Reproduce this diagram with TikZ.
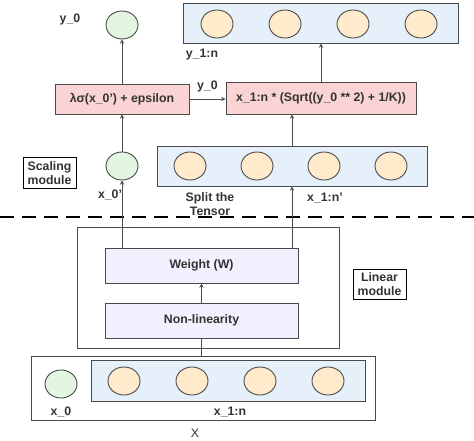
\documentclass[tikz,border=0pt]{standalone}
\usepackage{fontspec}
\setmainfont{Liberation Sans}
\usetikzlibrary{positioning,shapes.geometric}
\definecolor{edge}{HTML}{4A4A4A}
\definecolor{txt}{HTML}{333333}
\definecolor{greenfill}{HTML}{E2F6E2}
\definecolor{orangefill}{HTML}{FFEBCC}
\definecolor{bluefill}{HTML}{E6F0FA}
\definecolor{redfill}{HTML}{FAD4D4}
\definecolor{lavfill}{HTML}{F0F0FF}
\begin{document}
\begin{tikzpicture}
        [x=1pt,y=-1pt,
         every node/.style={text=txt,font=\fontsize{12.3}{14}\selectfont\bfseries},
         gcirc/.style={draw=edge,line width=0.9pt,fill=greenfill,ellipse,minimum width=32pt,minimum height=28pt,inner sep=0pt},
         ocirc/.style={gcirc,fill=orangefill},
         vecbox/.style={draw=edge,line width=0.9pt,fill=bluefill,inner sep=0pt},
         opbox/.style={draw=edge,line width=0.9pt,fill=redfill,inner sep=0pt},
         layerbox/.style={draw=edge,line width=0.9pt,fill=lavfill,minimum width=193pt,minimum height=35pt,inner sep=0pt},
         tagbox/.style={draw=black,line width=1pt,fill=white,align=center,inner sep=2pt,minimum width=53pt,minimum height=30pt},
         arr/.style={draw=edge,line width=0.9pt,->,>=stealth}]
        \useasboundingbox (0,0) rectangle (474,441);

        % input X
        \node[draw=edge,line width=0.9pt,minimum width=344pt,minimum height=64pt] (xbox) at (203,388) {};
        \node[vecbox,minimum width=274pt,minimum height=41pt] (xvec) at (228,380.5) {};
        \node[gcirc] (xz) at (61,384) {};
        \foreach \i/\x in {1/124,2/192,3/260,4/328}
        {\node[ocirc] (xv\i) at (\x,381) {};}
        \node (xzlab) at (61,412) {x\_0};
        \node (xvlab) at (230,412) {x\_1:n};
        \node[font=\fontsize{12.3}{14}\selectfont] (xlab) at (195,433) {X};

        % linear module
        \node[draw=edge,line width=0.9pt,minimum width=262pt,minimum height=121pt] (linbox) at (208,287.5) {};
        \node[layerbox] (weight) at (201.5,265.5) {Weight (W)};
        \node[layerbox] (nonlin) at (201.5,320.5) {Non-linearity};
        \node[tagbox] (lintag) at (379.5,284) {Linear\\module};
        \draw[draw=edge,line width=0.9pt] (nonlin.south) -- (nonlin.south |- xbox.north);
        \draw[arr] (nonlin.north) -- (weight.south);

        \draw[draw=black,line width=1.2pt,dash pattern=on 14pt off 8pt] (0,217) -- (474,217);

        % scaling module
        \node[tagbox] (scaletag) at (49.5,173) {Scaling\\module};
        \node[gcirc] (xzp) at (122,166) {};
        \node (xzplab) at (110,195) {x\_0'};
        \node[opbox,minimum width=134pt,minimum height=30pt] (lam) at (122,99) {λσ(x\_0') + epsilon};
        \node[gcirc] (yz) at (122,25) {};
        \node (yzlab) at (70,19) {y\_0};
        \draw[arr] (weight.north -| xzp.south) -- (xzp.south);
        \draw[arr] (xzp.north) -- (lam.south);
        \draw[arr] (lam.north) -- (yz.south);

        % split tensor
        \node[vecbox,minimum width=270pt,minimum height=40pt] (midvec) at (292,166) {};
        \foreach \i/\x in {1/190,2/257,3/324,4/391}
        {\node[ocirc] (mv\i) at (\x,166) {};}
        \node[align=center,inner sep=0pt] (split) at (210,204) {Split the\\Tensor};
        \node (xvplab) at (325,198) {x\_1:n'};
        \draw[arr] (weight.north -| midvec.south) -- (midvec.south);

        % rescaled output
        \node[opbox,minimum width=190pt,minimum height=32pt] (sq) at (321,98) {x\_1:n * (Sqrt((y\_0 ** 2) + 1/K))};
        \draw[arr] (midvec.north) -- (midvec.north |- sq.south);
        \draw[arr] (lam.east) -- (lam.east -| sq.west) node[midway,above=3pt] {y\_0};
        \node[vecbox,minimum width=275pt,minimum height=40pt] (topvec) at (320.5,23) {};
        \foreach \i/\x in {1/217,2/285,3/353,4/421}
        {\node[ocirc] (tv\i) at (\x,24) {};}
        \node (yvlab) at (202,55) {y\_1:n};
        \draw[arr] (sq.north) -- (sq.north |- topvec.south);
\end{tikzpicture}
\end{document}
